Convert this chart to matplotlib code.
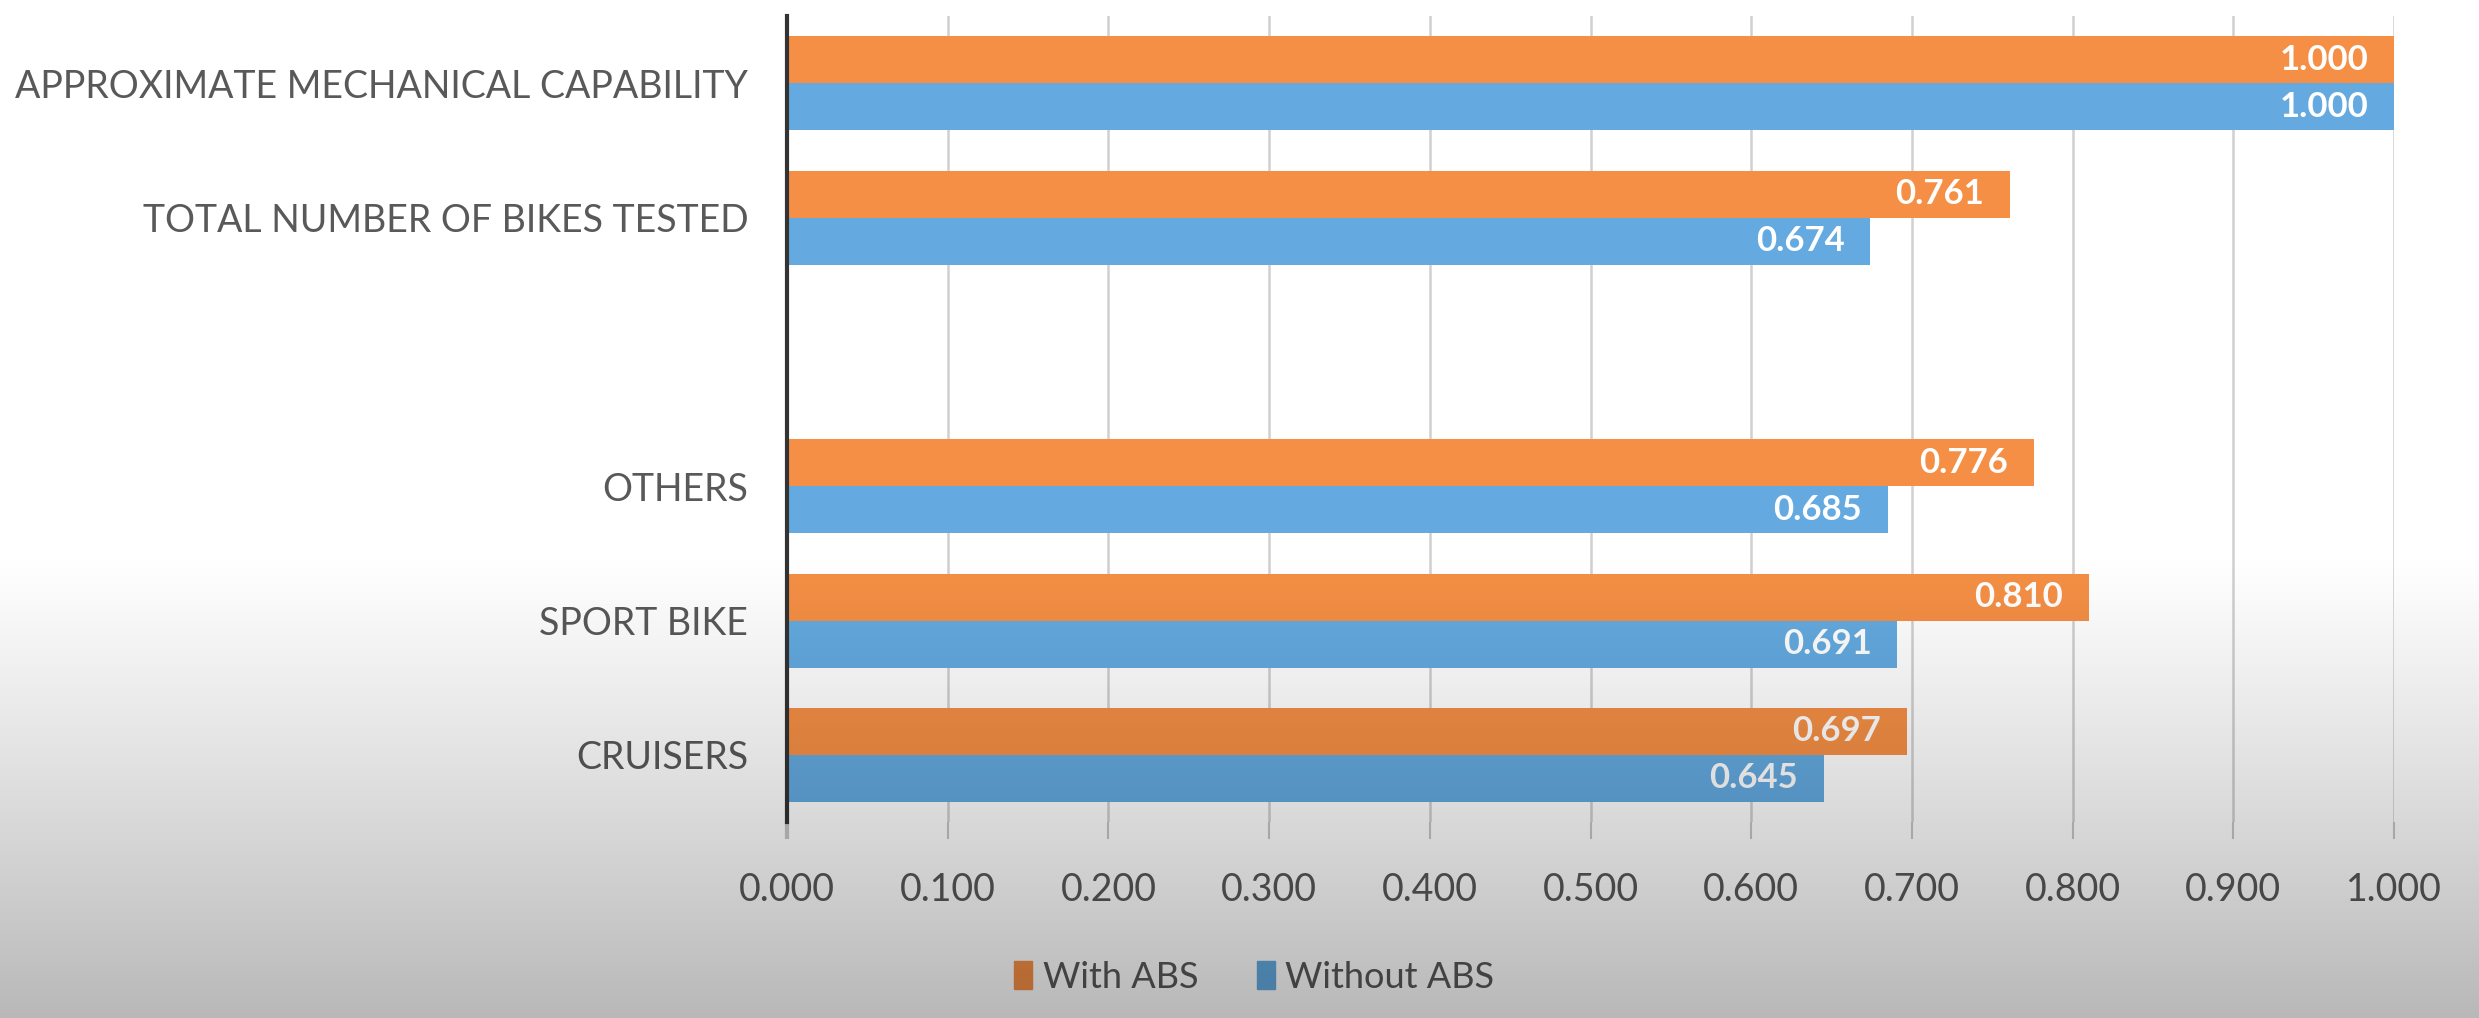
import numpy as np
import matplotlib.pyplot as plt
from matplotlib.patches import Patch

categories = ['CRUISERS', 'SPORT BIKE', 'OTHERS', '',
              'TOTAL NUMBER OF BIKES TESTED', 'APPROXIMATE MECHANICAL CAPABILITY']
with_abs = [0.697, 0.810, 0.776, None, 0.761, 1.000]
without_abs = [0.645, 0.691, 0.685, None, 0.674, 1.000]
ticks = [0.0, 0.1, 0.2, 0.3, 0.4, 0.5, 0.6, 0.7, 0.8, 0.9, 1.0]

orange = '#F58F45'
blue = '#64AAE0'
text_grey = '#595959'

plt.rcParams['font.family'] = ['Lato', 'DejaVu Sans']

fig = plt.figure(figsize=(24.79, 10.18), dpi=100)
fig.patch.set_facecolor('white')

ax = fig.add_axes([0.3175, 0.1925, 0.6482, 0.7915])
ax.patch.set_alpha(0)

y = np.arange(len(categories))
h = 0.35
for i in range(len(categories)):
    if with_abs[i] is None:
        continue
    ax.barh(y[i] + h / 2, with_abs[i], height=h, color=orange, zorder=3)
    ax.barh(y[i] - h / 2, without_abs[i], height=h, color=blue, zorder=3)
    ax.text(with_abs[i] - 0.016, y[i] + h / 2, f'{with_abs[i]:.3f}', ha='right', va='center',
            color='white', fontsize=25, fontweight='bold', zorder=4)
    ax.text(without_abs[i] - 0.016, y[i] - h / 2, f'{without_abs[i]:.3f}', ha='right', va='center',
            color='white', fontsize=25, fontweight='bold', zorder=4)

ax.set_ylim(-0.5, len(categories) - 0.5)
ax.set_xlim(0, 1.0)
ax.set_yticks(y)
ax.set_yticklabels(categories, fontsize=27, color=text_grey)
ax.set_xticks(ticks)
ax.set_xticklabels([f'{t:.3f}' for t in ticks], fontsize=27, color=text_grey)
ax.tick_params(axis='y', length=0, pad=28)
ax.tick_params(axis='x', length=12, width=1.5, color='#c8c8c8', pad=24)
ax.xaxis.get_major_ticks()[0].tick1line.set_color('#333333')
ax.xaxis.get_major_ticks()[0].tick1line.set_markeredgewidth(3)

ax.grid(axis='x', color='#d0d0d0', linewidth=1.8, zorder=0)
for s in ['top', 'right', 'bottom']:
    ax.spines[s].set_visible(False)
ax.spines['left'].set_color('#333333')
ax.spines['left'].set_linewidth(3)
ax.spines['left'].set_zorder(5)

handles = [Patch(color=orange, label='With ABS'), Patch(color=blue, label='Without ABS')]
fig.legend(handles=handles, loc='center', bbox_to_anchor=(0.506, 0.04), ncol=2, frameon=False,
           fontsize=26, handlelength=0.5, handleheight=0.8, handletextpad=0.3, columnspacing=1.6,
           labelcolor=text_grey)

# dark shade over the lower part, like the screenshot
ov = fig.add_axes([0, 0, 1, 1], zorder=10)
g = np.linspace(0, 1, 256)
alpha = np.clip((g - 0.54) / 0.46, 0, 1) ** 1.1 * 0.28
rgba = np.zeros((256, 2, 4))
rgba[:, :, 3] = alpha[:, None]
ov.imshow(rgba, aspect='auto', extent=[0, 1, 0, 1], origin='upper')
ov.axis('off')

fig.savefig('out.png', dpi=100)
